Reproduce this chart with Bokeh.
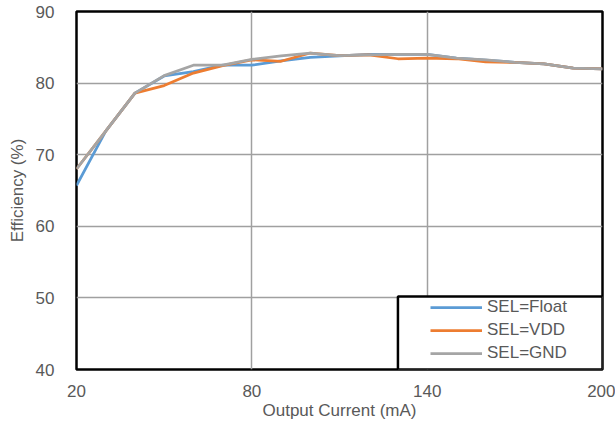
from bokeh.plotting import figure
from bokeh.models import (FixedTicker, Legend, LegendItem, BoxAnnotation, Range1d)
from bokeh.embed import file_html
from bokeh.resources import INLINE

# Output current (mA) and efficiency (%) for the three SEL pin settings
current_ma = [20, 30, 40, 50, 60, 70, 80, 90, 100, 110, 120, 130, 140, 150, 160, 170, 180, 190, 200]
eff_float = [65.7, 73.3, 78.6, 81.0, 81.6, 82.5, 82.5, 83.1, 83.6, 83.8, 84.0, 84.0, 84.0, 83.5, 83.2, 82.9, 82.7, 82.1, 82.0]
eff_vdd = [68.0, 73.3, 78.6, 79.65, 81.4, 82.45, 83.25, 83.05, 84.2, 83.85, 83.95, 83.4, 83.5, 83.4, 82.95, 82.9, 82.7, 82.1, 82.0]
eff_gnd = [68.0, 73.3, 78.6, 81.05, 82.5, 82.5, 83.3, 83.8, 84.2, 83.85, 83.95, 84.0, 84.0, 83.5, 83.25, 82.9, 82.7, 82.1, 82.0]

series_labels = ["SEL=Float", "SEL=VDD", "SEL=GND"]
series_colors = ["#5B9BD5", "#ED7D31", "#A5A5A5"]

x_ticks = [20, 80, 140, 200]
y_ticks = [40, 50, 60, 70, 80, 90]
# interior grid lines only; the frame outline covers the range ends
x_grid = [80, 140]
y_grid = [50, 60, 70, 80]

FONT = "Liberation Sans"
TEXT_COLOR = "#595959"
FONT_SIZE = "17px"

p = figure(width=615, height=425, output_backend="svg", toolbar_location=None,
           x_range=Range1d(20, 200), y_range=Range1d(40, 90),
           min_border_left=76, min_border_right=13, min_border_top=11, min_border_bottom=56)

p.outline_line_color = "black"
p.outline_line_width = 2.5
p.outline_line_alpha = 1.0
p.background_fill_color = "white"
p.border_fill_color = "white"

for ax in (p.xaxis[0], p.yaxis[0]):
    ax.axis_line_color = None
    ax.major_tick_line_color = None
    ax.minor_tick_line_color = None
    ax.major_tick_out = 0
    ax.major_tick_in = 0
    ax.major_label_text_font = FONT
    ax.major_label_text_font_size = FONT_SIZE
    ax.major_label_text_color = TEXT_COLOR
    ax.axis_label_text_font = FONT
    ax.axis_label_text_font_size = FONT_SIZE
    ax.axis_label_text_color = TEXT_COLOR
    ax.axis_label_text_font_style = "normal"

p.xaxis[0].ticker = FixedTicker(ticks=x_ticks)
p.yaxis[0].ticker = FixedTicker(ticks=y_ticks)
p.xaxis[0].major_label_standoff = 15
p.yaxis[0].major_label_standoff = 22
p.xaxis[0].axis_label = "Output Current (mA)"
p.yaxis[0].axis_label = "Efficiency (%)"
p.xaxis[0].axis_label_standoff = 1
p.yaxis[0].axis_label_standoff = 6

p.xgrid.ticker = FixedTicker(ticks=x_grid)
p.ygrid.ticker = FixedTicker(ticks=y_grid)
p.xgrid.grid_line_color = "#A0A0A0"
p.ygrid.grid_line_color = "#A0A0A0"
p.xgrid.grid_line_width = 1.5
p.ygrid.grid_line_width = 1.5

renderers = []
for ys, color in zip([eff_float, eff_vdd, eff_gnd], series_colors):
    r = p.line(current_ma, ys, line_color=color, line_width=2.75)
    renderers.append(r)

# Legend frame in the lower-right corner of the plot area
legend_box = BoxAnnotation(left=130.0, right=200, bottom=40, top=50.2,
                           fill_color="white", fill_alpha=1.0,
                           line_color="black", line_alpha=1.0, line_width=2.5)
p.add_layout(legend_box)

legend = Legend(items=[LegendItem(label=lab, renderers=[r]) for lab, r in zip(series_labels, renderers)],
                location=(350, 2), orientation="vertical",
                border_line_alpha=0, background_fill_alpha=0,
                padding=4, spacing=3, margin=0,
                glyph_width=52, glyph_height=20, label_height=20, label_standoff=5,
                label_text_font=FONT, label_text_font_size=FONT_SIZE,
                label_text_color=TEXT_COLOR)
p.add_layout(legend)

open("out.html", "w").write(file_html(p, INLINE))
